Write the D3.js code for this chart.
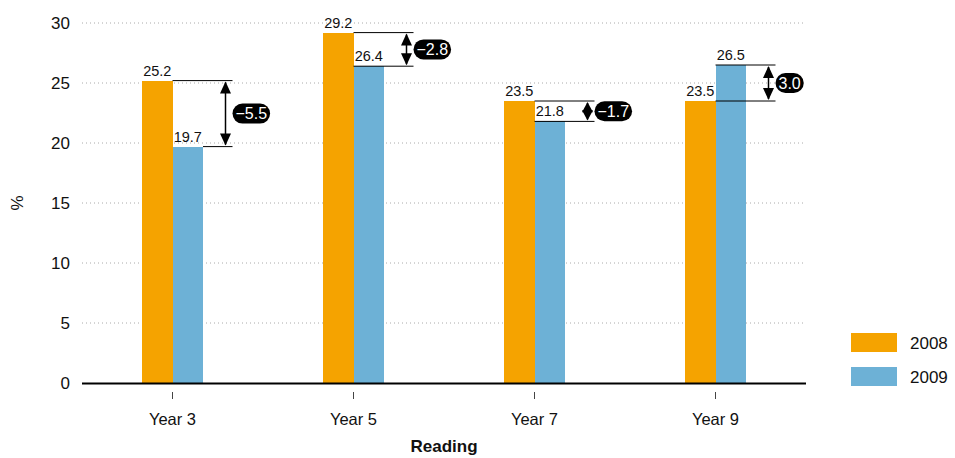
<!DOCTYPE html>
<html><head><meta charset="utf-8">
<script src="https://cdn.jsdelivr.net/npm/d3@7"></script>
<style>body{margin:0;background:#fff}svg{display:block;font-family:"Liberation Sans",Arial,sans-serif}</style>
</head><body><svg id="c" width="955" height="458"></svg>
<script>
const categories = ["Year 3","Year 5","Year 7","Year 9"];
const series = ["2008","2009"];
const values2008 = [25.2, 29.2, 23.5, 23.5];
const values2009 = [19.7, 26.4, 21.8, 26.5];
const diffs = ["\u22125.5","\u22122.8","\u22121.7","3.0"];
const yTicks = [0,5,10,15,20,25,30];
const colors = ["#F5A300","#6DB1D6"];
const xTitle = "Reading", yTitle = "%";

const svg = d3.select("#c");
const x = d3.scaleBand().domain(categories).range([82,806]);
const y = d3.scaleLinear().domain([0,30]).range([383,23]);
const bw = 30.5;

// grid
svg.append("g").selectAll("line").data(yTicks.filter(d=>d>0)).join("line")
  .attr("x1",82).attr("x2",806).attr("y1",d=>y(d)).attr("y2",d=>y(d))
  .attr("stroke","#aaa").attr("stroke-width",1).attr("stroke-dasharray","1,3");
// y labels
svg.append("g").selectAll("text").data(yTicks).join("text")
  .attr("x",70).attr("y",d=>y(d)).attr("dy","0.36em").attr("text-anchor","end")
  .attr("font-size",17).attr("fill","#111").text(d=>d);
svg.append("text").attr("transform","translate(23,203) rotate(-90)").attr("text-anchor","middle")
  .attr("font-size",17).attr("fill","#111").text(yTitle);

// bars
const data = categories.map((c,i)=>({c, v:[values2008[i],values2009[i]], d:diffs[i]}));
const g = svg.append("g").attr("shape-rendering","crispEdges");
data.forEach(d=>{
  const cx = x(d.c)+x.bandwidth()/2;
  d.v.forEach((v,j)=>{
    const x0 = cx + (j===0?-bw:0);
    g.append("rect").attr("x",x0).attr("y",y(v)).attr("width",bw).attr("height",y(0)-y(v)).attr("fill",colors[j]);
  });
});
// axis baseline
svg.append("line").attr("x1",82).attr("x2",806).attr("y1",383.5).attr("y2",383.5).attr("stroke","#000").attr("stroke-width",2);
// x ticks
svg.append("g").selectAll("line").data(categories).join("line")
  .attr("x1",d=>x(d)+x.bandwidth()/2).attr("x2",d=>x(d)+x.bandwidth()/2).attr("y1",392).attr("y2",399)
  .attr("stroke","#444").attr("stroke-width",1);
svg.append("g").selectAll("text").data(categories).join("text")
  .attr("x",d=>x(d)+x.bandwidth()/2).attr("y",425).attr("text-anchor","middle")
  .attr("font-size",16.5).attr("fill","#111").text(d=>d);
svg.append("text").attr("x",444).attr("y",452).attr("text-anchor","middle")
  .attr("font-size",17).attr("font-weight","bold").attr("fill","#111").text(xTitle);

// annotations
const ann = svg.append("g");
data.forEach((d,i)=>{
  const cx = x(d.c)+x.bandwidth()/2;
  d.v.forEach((v,j)=>{
    ann.append("text").attr("x",cx+(j===0?-bw/2:bw/2)).attr("y",y(v)-5).attr("text-anchor","middle")
      .attr("font-size",14.5).attr("fill","#111").text(v.toFixed(1));
  });
  const hi = Math.max(...d.v), lo = Math.min(...d.v);
  ann.append("line").attr("x1",cx).attr("x2",cx+60).attr("y1",y(hi)).attr("y2",y(hi)).attr("stroke","#000").attr("stroke-width",1);
  ann.append("line").attr("x1",(i===0?cx+bw:cx)).attr("x2",cx+60).attr("y1",y(lo)).attr("y2",y(lo)).attr("stroke","#000").attr("stroke-width",1);
  const ax = cx+53, y1 = y(hi), y2 = y(lo);
  const h = Math.min(12, (y2-y1)/2);
  ann.append("line").attr("x1",ax).attr("x2",ax).attr("y1",y1+2).attr("y2",y2-2).attr("stroke","#000").attr("stroke-width",1.5);
  ann.append("path").attr("d",`M${ax},${y1+1}L${ax-5.5},${y1+1+h}L${ax+5.5},${y1+1+h}Z`).attr("fill","#000");
  ann.append("path").attr("d",`M${ax},${y2-1}L${ax-5.5},${y2-1-h}L${ax+5.5},${y2-1-h}Z`).attr("fill","#000");
  const my = (y1+y2)/2;
  const t = ann.append("text").attr("x",0).attr("y",my).attr("dy","0.36em").attr("font-size",16)
    .attr("fill","#fff").text(d.d);
  const w = t.node().getComputedTextLength();
  const px = cx+60, pw = w+6;
  ann.insert("rect", () => t.node()).attr("x",px).attr("y",my-10).attr("width",pw).attr("height",20).attr("rx",10).attr("fill","#000");
  t.attr("x",px+3);
});

// legend
const lg = svg.append("g");
series.forEach((s,i)=>{
  lg.append("rect").attr("x",851).attr("y",333+i*34).attr("width",46).attr("height",19).attr("fill",colors[i]);
  lg.append("text").attr("x",910).attr("y",343+i*34).attr("dy","0.36em").attr("font-size",17).attr("fill","#111").text(s);
});
</script></body></html>
